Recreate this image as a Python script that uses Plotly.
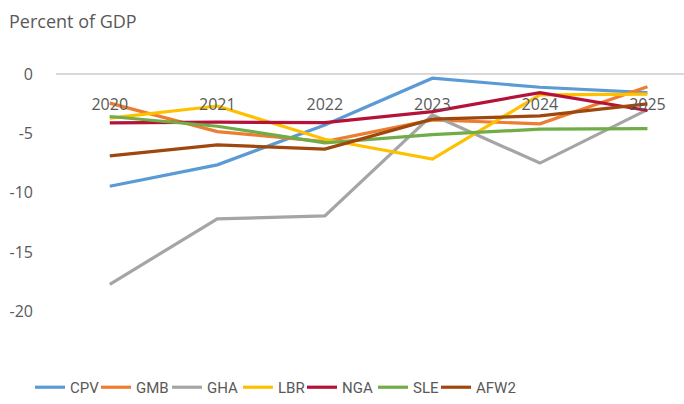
import plotly.graph_objects as go

years = ["2020", "2021", "2022", "2023", "2024", "2025"]
series_names = ["CPV", "GMB", "GHA", "LBR", "NGA", "SLE", "AFW2"]
cpv = [-9.45, -7.65, -4.3, -0.36, -1.12, -1.57]
gmb = [-2.46, -4.85, -5.7, -3.87, -4.2, -1.07]
gha = [-17.7, -12.2, -11.95, -3.45, -7.5, -3.0]
lbr = [-3.72, -2.7, -5.5, -7.17, -1.76, -1.7]
nga = [-4.12, -4.06, -4.09, -3.17, -1.57, -3.08]
sle = [-3.58, -4.4, -5.8, -5.1, -4.65, -4.6]
afw2 = [-6.9, -5.97, -6.33, -3.8, -3.53, -2.52]
colors = ["#5B9BD5", "#ED7D31", "#A5A5A5", "#FFC000", "#B5123A", "#70AD47", "#9E480E"]
y_ticks = [0, -5, -10, -15, -20]
legend_px = [38, 104, 175, 246, 310, 381, 444]  # left edge of each legend line

W, H = 684, 404
L, R = 56, 0
Y_TOP, Y_BOT = 0.5, -25.0
PX_PER_UNIT = 11.9
ZERO_PX = 74
T = ZERO_PX - Y_TOP * PX_PER_UNIT
PH = (Y_TOP - Y_BOT) * PX_PER_UNIT
B = H - T - PH
PW = W - L - R

def px_x(p):
    return (p - L) / PW

def px_y(p):
    return (H - B - p) / PH

fig = go.Figure()
legend_layouts = {}
for i, (name, vals, col) in enumerate(zip(series_names, [cpv, gmb, gha, lbr, nga, sle, afw2], colors)):
    lname = "legend" if i == 0 else f"legend{i + 1}"
    fig.add_trace(go.Scatter(x=list(range(len(years))), y=vals, name=name, mode="lines",
                             line=dict(color=col, width=3.2), legend=lname))
    legend_layouts[lname] = dict(
        orientation="h", x=px_x(legend_px[i] - 8), xanchor="left",
        y=px_y(388), yanchor="middle", bgcolor="rgba(0,0,0,0)",
        font=dict(family="'Liberation Sans Narrow', 'Roboto', sans-serif", size=15, color="#595959"),
        itemwidth=30,
    )

font = "'Open Sans', sans-serif"
fig.update_layout(
    width=W, height=H,
    margin=dict(l=L, r=R, t=T, b=B, autoexpand=False),
    paper_bgcolor="white", plot_bgcolor="white",
    font=dict(family=font, color="#595959", size=16),
    showlegend=True,
    xaxis=dict(range=[-0.5, 5.34], tickvals=list(range(len(years))), ticktext=years,
               side="bottom", anchor="free", position=px_y(ZERO_PX),
               ticklabelstandoff=16, automargin=False,
               showgrid=False, zeroline=False, showline=True, linecolor="#D9D9D9", linewidth=1.5,
               ticks="", tickfont=dict(size=16, color="#595959")),
    yaxis=dict(range=[Y_BOT, Y_TOP], tickvals=y_ticks, ticktext=[str(v) for v in y_ticks],
               showgrid=False, zeroline=False,
               showline=False, ticks="", automargin=False,
               ticklabelstandoff=22, tickfont=dict(size=16, color="#595959")),
    annotations=[dict(text="Percent of GDP", x=px_x(7), y=px_y(21),
                      xref="paper", yref="paper",
                      xanchor="left", yanchor="middle", showarrow=False,
                      font=dict(size=18, color="#595959"))],
    **legend_layouts,
)
fig.write_html("out.html", post_script="document.body.style.margin='0';",
               config={"displayModeBar": False})
